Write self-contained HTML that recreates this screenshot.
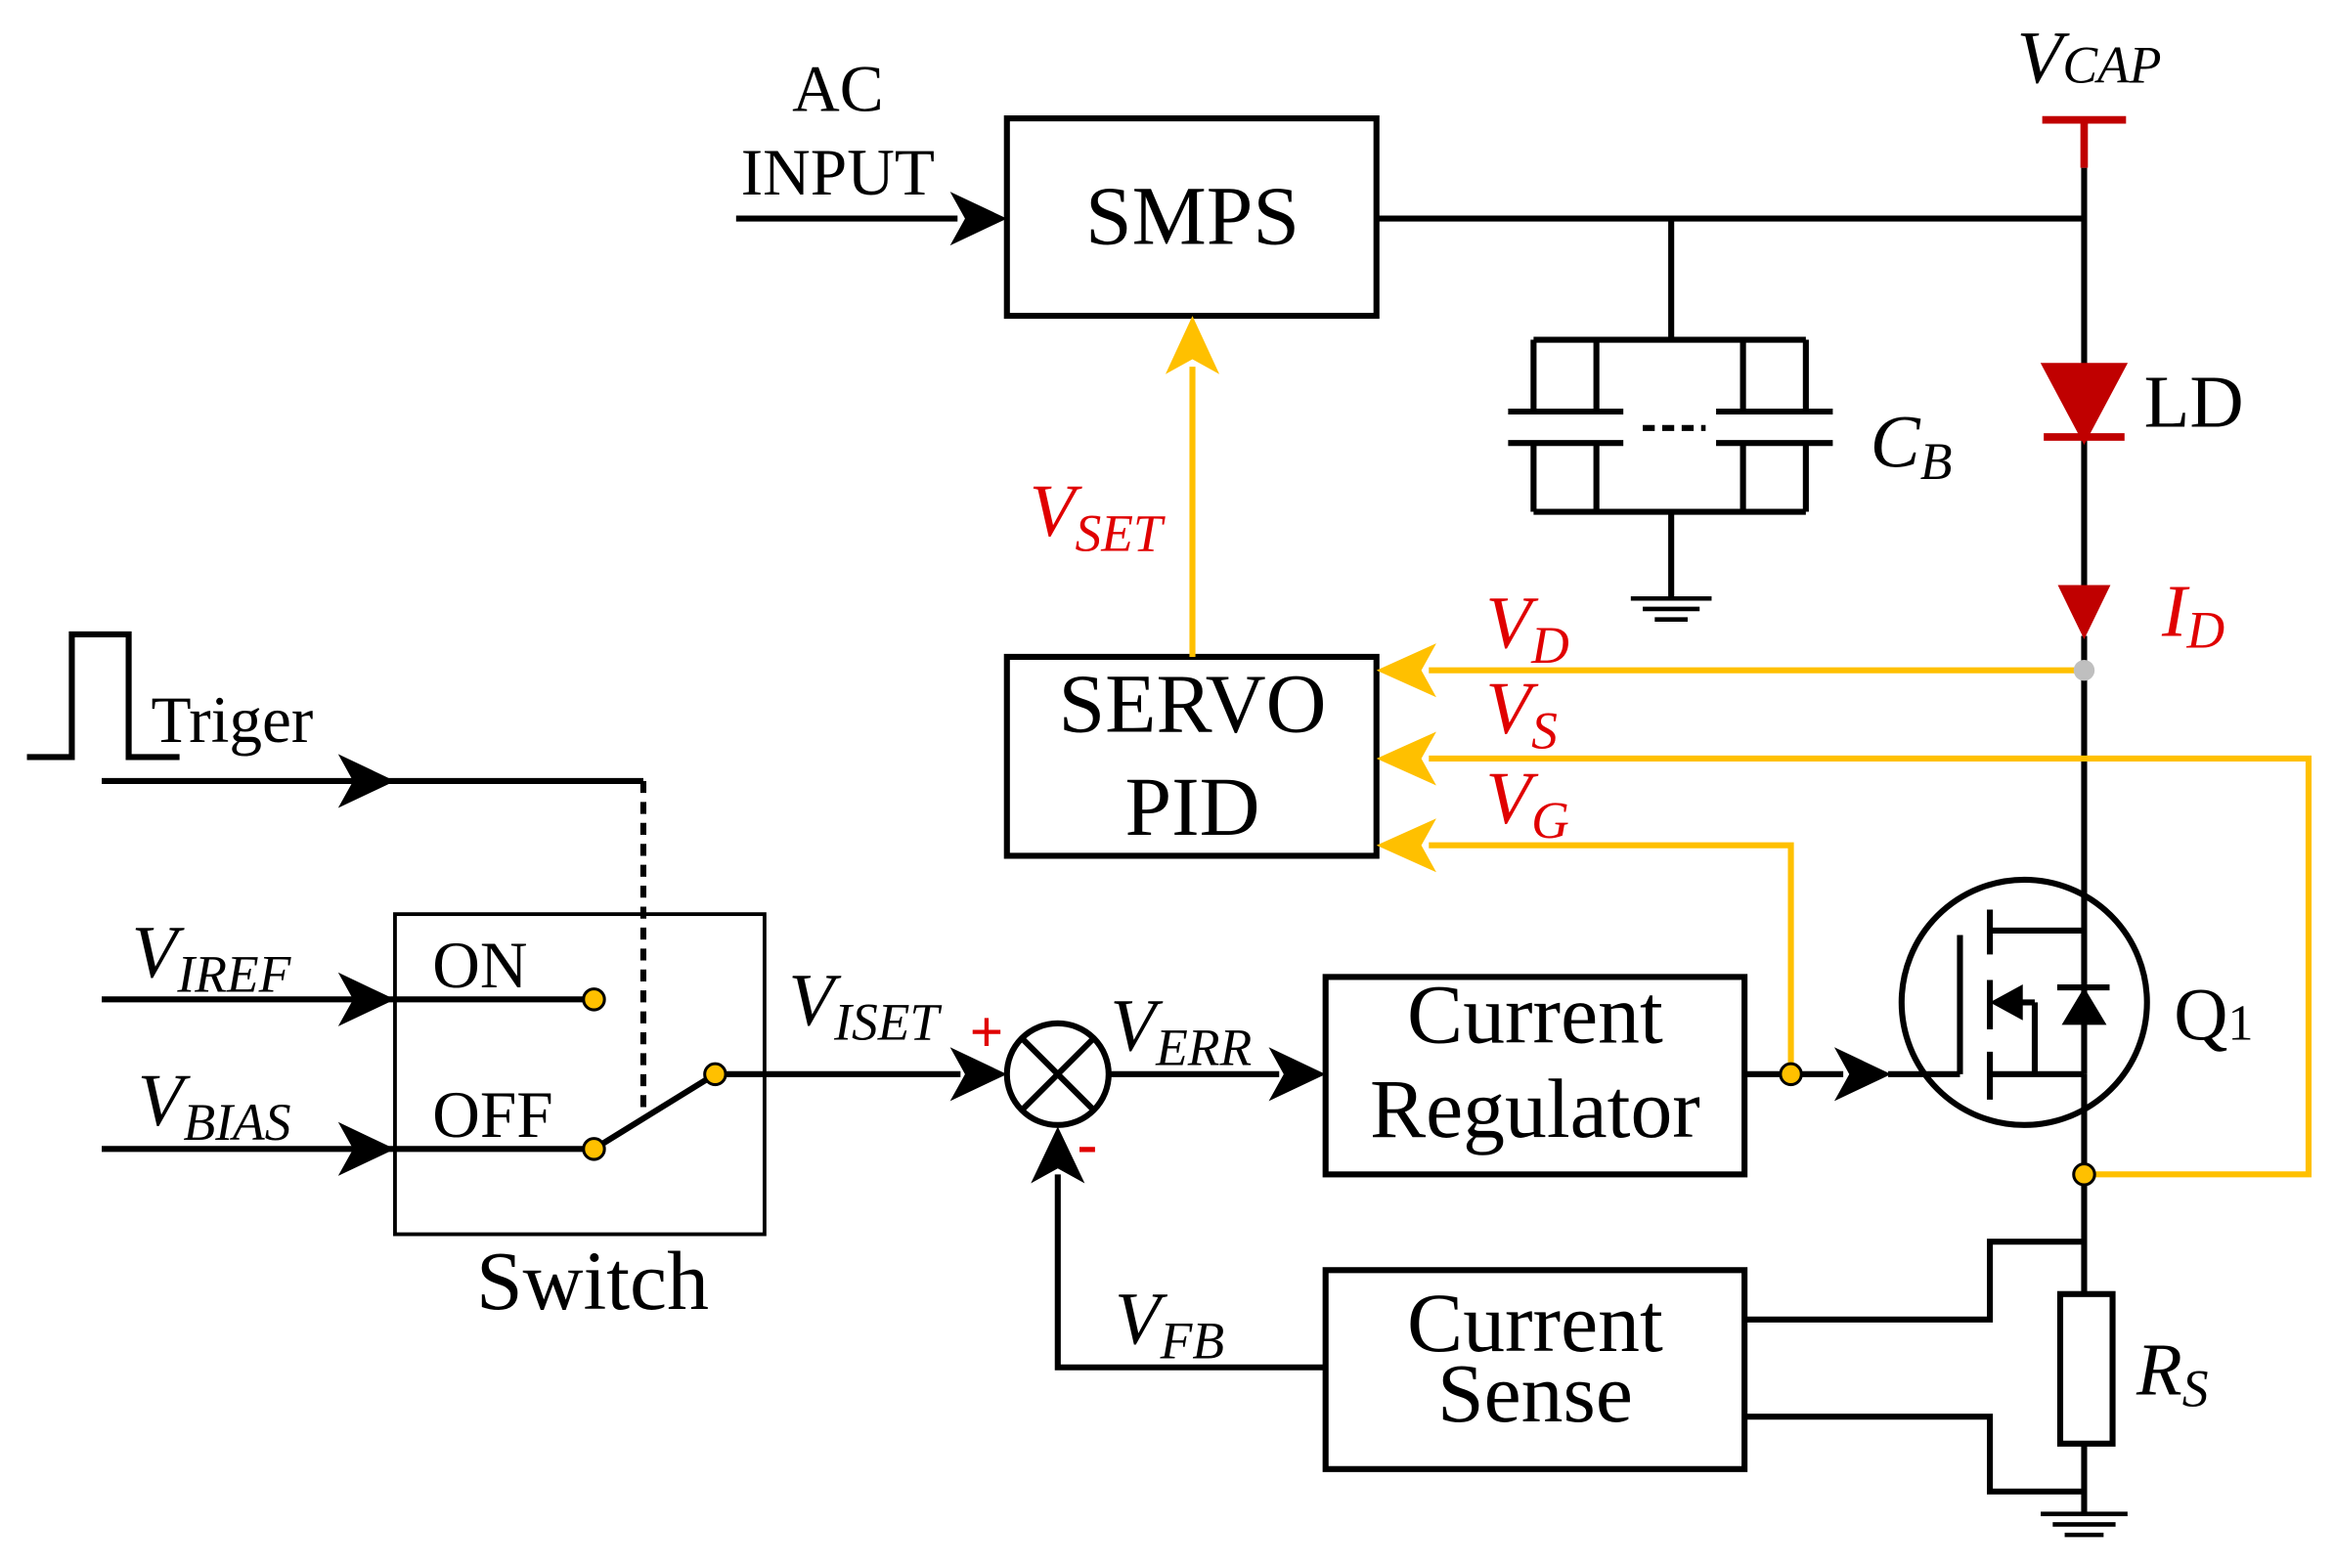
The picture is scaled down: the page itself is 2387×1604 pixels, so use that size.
<!DOCTYPE html>
<html><head><meta charset="utf-8"><style>
html,body{margin:0;padding:0;background:#fff}
svg{display:block}
text{font-family:"Liberation Serif",serif;}
.i{font-style:italic}
</style></head><body>
<svg width="2387" height="1604" viewBox="0 0 1560 1048" xmlns="http://www.w3.org/2000/svg">
<g stroke="#000" stroke-width="4" fill="none">
<rect x="673" y="79" width="247" height="132"/>
<rect x="673" y="439" width="247" height="133"/>
<rect x="886" y="653" width="280" height="132"/>
<rect x="886" y="849" width="280" height="133"/>
<rect x="264" y="611" width="247" height="214" stroke-width="2.5"/>
<line x1="492" y1="146" x2="640" y2="146"/>
<line x1="920" y1="146" x2="1393" y2="146"/>
<line x1="1393" y1="112" x2="1393" y2="245"/>
<line x1="1393" y1="292" x2="1393" y2="392"/>
<line x1="1393" y1="425" x2="1393" y2="622"/>
<line x1="1393" y1="718" x2="1393" y2="865"/>
<line x1="1393" y1="965" x2="1393" y2="1012"/>
<line x1="1117" y1="146" x2="1117" y2="227"/>
<path d="M1025,227 H1207 M1025,342 H1207 M1025,227 V275 M1025,296 V342 M1067,227 V275 M1067,296 V342 M1165,227 V275 M1165,296 V342 M1207,227 V275 M1207,296 V342"/>
<path d="M1008,275 H1085 M1008,296 H1085 M1147,275 H1225 M1147,296 H1225"/>
<path d="M1098,286 H1140" stroke-dasharray="8,5"/>
<line x1="1117" y1="342" x2="1117" y2="400"/>
<path d="M1090,400 H1144 M1098,407 H1136 M1106,414 H1128" stroke-width="3"/>
<circle cx="1353" cy="670" r="82"/>
<line x1="1262" y1="718" x2="1310" y2="718"/>
<line x1="1310" y1="625" x2="1310" y2="718"/>
<path d="M1330,608 V638 M1330,655 V688 M1330,703 V735"/>
<path d="M1330,622 H1393 M1330,718 H1393 M1360,670 V718"/>
<path d="M1340,670 H1360"/>
<path d="M1375,660 H1410"/>
<line x1="1393" y1="622" x2="1393" y2="718"/>
<path d="M1393,830 H1330 V882 H1166 M1166,947 H1330 V997 H1393"/>
<rect x="1377" y="865" width="35" height="100"/>
<path d="M1364,1012 H1422 M1372,1019 H1414 M1380,1026 H1406" stroke-width="3"/>
<line x1="1166" y1="718" x2="1232" y2="718"/>
<circle cx="707" cy="718" r="34"/>
<path d="M683,694 L731,742 M731,694 L683,742"/>
<line x1="741" y1="718" x2="855" y2="718"/>
<line x1="478" y1="718" x2="642" y2="718"/>
<path d="M886,914 H707 V785"/>
<line x1="68" y1="668" x2="397" y2="668"/>
<line x1="68" y1="768" x2="397" y2="768"/>
<line x1="397" y1="768" x2="478" y2="718"/>
<path d="M68,522 H430"/>
<line x1="430" y1="522" x2="430" y2="740" stroke-dasharray="8,6"/>
<path d="M18,506 H48 V424 H86 V506 H120"/>
</g>
<g fill="#000">
<polygon points="673,146 635,128 645,146 635,164"/>
<polygon points="264,668 226,650 236,668 226,686"/>
<polygon points="264,768 226,750 236,768 226,786"/>
<polygon points="264,522 226,504 236,522 226,540"/>
<polygon points="673,718 635,700 645,718 635,736"/>
<polygon points="886,718 848,700 858,718 848,736"/>
<polygon points="1264,718 1226,700 1236,718 1226,736"/>
<polygon points="707,753 689,791 707,781 725,791"/>
<polygon points="1330,670 1352,658 1352,682"/>
<polygon points="1393,660 1378,685 1408,685"/>
</g>
<g stroke="#c00000" stroke-width="5" fill="#c00000">
<line x1="1365" y1="80" x2="1421" y2="80"/>
<line x1="1393" y1="80" x2="1393" y2="112"/>
<polygon points="1368,245 1418,245 1393,292"/>
<line x1="1366" y1="292" x2="1420" y2="292"/>
<polygon points="1377,392 1409,392 1393,425" stroke-width="2"/>
</g>
<g stroke="#ffc000" stroke-width="4" fill="none">
<line x1="797" y1="439" x2="797" y2="245"/>
<line x1="1393" y1="448" x2="955" y2="448"/>
<path d="M1393,785 H1543 V507 H955"/>
<path d="M1197,718 V565 H955"/>
</g>
<g fill="#ffc000">
<polygon points="797,211 779,250 797,240 815,250"/>
<polygon points="920,448 960,430 950,448 960,466"/>
<polygon points="920,507 960,489 950,507 960,525"/>
<polygon points="920,565 960,547 950,565 960,583"/>
</g>
<g stroke="#000" stroke-width="2" fill="#ffc000">
<circle cx="397" cy="668" r="7"/><circle cx="397" cy="768" r="7"/><circle cx="478" cy="718" r="7"/>
<circle cx="1197" cy="718" r="7"/><circle cx="1393" cy="785" r="7"/>
</g>
<circle cx="1393" cy="448" r="7" fill="#bfbfbf"/>
<g font-size="56" text-anchor="middle">
<text x="797" y="163">SMPS</text>
<text x="797" y="489">SERVO</text>
<text x="797" y="558">PID</text>
<text x="1026" y="697">Current</text>
<text x="1026" y="760">Regulator</text>
<text x="1026" y="903">Current</text>
<text x="1026" y="950">Sense</text>
<text x="396" y="875">Switch</text>
</g>
<g font-size="44">
<text x="560" y="74" text-anchor="middle">AC</text>
<text x="560" y="130" text-anchor="middle">INPUT</text>
<text x="101" y="496">Triger</text>
<text x="289" y="660">ON</text>
<text x="289" y="760">OFF</text>
<text x="1453" y="695" font-size="50">Q<tspan font-size="34">1</tspan></text>
<text x="1433" y="285" font-size="50">LD</text>
</g>
<g font-size="50" class="i">
<text x="1348" y="55">V<tspan font-size="35">CAP</tspan></text>
<text x="1250" y="312">C<tspan font-size="35" dy="8">B</tspan></text>
<text x="1428" y="932">R<tspan font-size="35" dy="8">S</tspan></text>
<text x="88" y="653">V<tspan font-size="35" dy="10">IREF</tspan></text>
<text x="92" y="752">V<tspan font-size="35" dy="10">BIAS</tspan></text>
<text x="527" y="685">V<tspan font-size="35" dy="10">ISET</tspan></text>
<text x="742" y="702">V<tspan font-size="35" dy="10">ERR</tspan></text>
<text x="745" y="898">V<tspan font-size="35" dy="10">FB</tspan></text>
</g>
<g font-size="50" class="i" fill="#e00000">
<text x="688" y="358">V<tspan font-size="35" dy="10">SET</tspan></text>
<text x="993" y="433">V<tspan font-size="35" dy="10">D</tspan></text>
<text x="993" y="490">V<tspan font-size="35" dy="10">S</tspan></text>
<text x="993" y="550">V<tspan font-size="35" dy="10">G</tspan></text>
<text x="1445" y="425">I<tspan font-size="35" dy="8">D</tspan></text>
</g>
<g fill="#e00000" font-size="40" font-weight="bold">
<text x="648" y="703">+</text>
<text x="720" y="778">-</text>
</g>
</svg>
</body></html>
